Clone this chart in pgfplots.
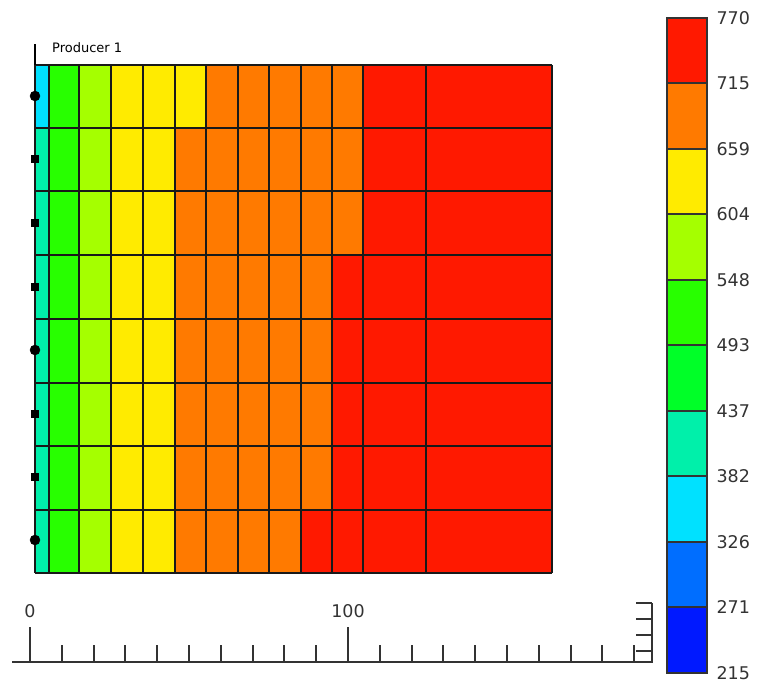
\documentclass[border=0pt]{standalone}
\usepackage{pgfplots}
\pgfplotsset{compat=1.18}
\usepackage{fontspec}
\setmainfont{DejaVu Sans}
\definecolor{cA}{RGB}{0,25,255}
\definecolor{cB}{RGB}{0,110,255}
\definecolor{cC}{RGB}{0,225,255}
\definecolor{cD}{RGB}{0,240,170}
\definecolor{cE}{RGB}{0,255,40}
\definecolor{cF}{RGB}{40,255,0}
\definecolor{cG}{RGB}{165,255,0}
\definecolor{cH}{RGB}{255,235,0}
\definecolor{cI}{RGB}{255,122,0}
\definecolor{cJ}{RGB}{255,25,0}
\begin{document}
\begin{tikzpicture}
% main picture, coordinates in pixels (y downwards)
\begin{axis}[
  at={(0pt,0pt)}, anchor=south west,
  scale only axis, width=758pt, height=680pt,
  xmin=0, xmax=758, ymin=0, ymax=680, y dir=reverse,
  hide axis, clip=false,
]
\addplot[draw=none, forget plot] coordinates {(0,0) (758,680)};
% colour regions of the grid
\addplot[fill=cC, draw=none] coordinates {(35,65)(49,65)(49,128)(35,128)} --cycle;
\addplot[fill=cD, draw=none] coordinates {(35,128)(49,128)(49,573)(35,573)} --cycle;
\addplot[fill=cF, draw=none] coordinates {(49,65)(79,65)(79,573)(49,573)} --cycle;
\addplot[fill=cG, draw=none] coordinates {(79,65)(111,65)(111,573)(79,573)} --cycle;
\addplot[fill=cH, draw=none] coordinates {(111,65)(206,65)(206,128)(174.5,128)(174.5,573)(111,573)} --cycle;
\addplot[fill=cI, draw=none] coordinates {(206,65)(362.5,65)(362.5,255)(331.5,255)(331.5,510)(301,510)(301,573)(174.5,573)(174.5,128)(206,128)} --cycle;
\addplot[fill=cJ, draw=none] coordinates {(362.5,65)(552,65)(552,573)(301,573)(301,510)(331.5,510)(331.5,255)(362.5,255)} --cycle;
% grid lines
\addplot[black!90, line width=2pt, unbounded coords=jump] coordinates {
 (35,65)(35,573) (nan,nan) (49,65)(49,573) (nan,nan) (79,65)(79,573) (nan,nan)
 (111,65)(111,573) (nan,nan) (143,65)(143,573) (nan,nan) (174.5,65)(174.5,573) (nan,nan)
 (206,65)(206,573) (nan,nan) (237.5,65)(237.5,573) (nan,nan) (269,65)(269,573) (nan,nan)
 (301,65)(301,573) (nan,nan) (331.5,65)(331.5,573) (nan,nan) (362.5,65)(362.5,573) (nan,nan)
 (426,65)(426,573) (nan,nan) (552,65)(552,573) (nan,nan)
 (35,65)(552,65) (nan,nan) (35,128)(552,128) (nan,nan) (35,191)(552,191) (nan,nan)
 (35,255)(552,255) (nan,nan) (35,319)(552,319) (nan,nan) (35,383)(552,383) (nan,nan)
 (35,446)(552,446) (nan,nan) (35,510)(552,510) (nan,nan) (35,573)(552,573)
};
% well
\addplot[black, line width=1.6pt] coordinates {(35,44)(35,65)};
\addplot[only marks, mark=*, mark size=5pt, black] coordinates {(35,96)(35,350)(35,540)};
\addplot[only marks, mark=square*, mark size=3.5pt, black] coordinates {(35,159)(35,223)(35,287)(35,414)(35,477)};
\node[anchor=west, font=\fontsize{13}{15}\selectfont, inner sep=0pt] at (axis cs:52,48) {Producer 1};
% scale bar
\addplot[black!80, line width=2pt, unbounded coords=jump] coordinates {
 (12,662)(652,662)(652,603) (nan,nan)
 (636,603)(652,603) (nan,nan) (636,619)(652,619) (nan,nan) (636,635)(652,635) (nan,nan) (636,651)(652,651) (nan,nan)
 (30,627)(30,662) (nan,nan) (348,627)(348,662) (nan,nan)
 (61.8,645)(61.8,662) (nan,nan) (93.6,645)(93.6,662) (nan,nan) (125.4,645)(125.4,662) (nan,nan)
 (157.2,645)(157.2,662) (nan,nan) (189,645)(189,662) (nan,nan) (220.8,645)(220.8,662) (nan,nan)
 (252.6,645)(252.6,662) (nan,nan) (284.4,645)(284.4,662) (nan,nan) (316.2,645)(316.2,662) (nan,nan)
 (379.8,645)(379.8,662) (nan,nan) (411.6,645)(411.6,662) (nan,nan) (443.4,645)(443.4,662) (nan,nan)
 (475.2,645)(475.2,662) (nan,nan) (507,645)(507,662) (nan,nan) (538.8,645)(538.8,662) (nan,nan)
 (570.6,645)(570.6,662) (nan,nan) (602.4,645)(602.4,662) (nan,nan) (634.2,645)(634.2,662)
};
\node[font=\fontsize{17.5}{20}\selectfont, inner sep=0pt, text=black!80] at (axis cs:30,611) {0};
\node[font=\fontsize{17.5}{20}\selectfont, inner sep=0pt, text=black!80] at (axis cs:348,611) {100};
\end{axis}
% colour bar
\begin{axis}[
  at={(667pt,7pt)}, anchor=south west,
  scale only axis, width=40pt, height=655pt,
  xmin=0, xmax=1, ymin=215, ymax=770,
  xtick=\empty,
  ytick={215,271,326,382,437,493,548,604,659,715,770},
  yticklabels={215,271,326,382,437,493,548,604,659,715,770},
  yticklabel pos=right, major tick length=0pt,
  yticklabel style={font=\fontsize{17.5}{20}\selectfont, text=black!80, xshift=6pt},
  /pgf/number format/assume math mode=true,
  axis line style={black!80, line width=1.6pt},
  axis on top,
]
\addplot[fill=cA, draw=black!80, line width=1.4pt] coordinates {(0,215)(1,215)(1,271)(0,271)} --cycle;
\addplot[fill=cB, draw=black!80, line width=1.4pt] coordinates {(0,271)(1,271)(1,326)(0,326)} --cycle;
\addplot[fill=cC, draw=black!80, line width=1.4pt] coordinates {(0,326)(1,326)(1,382)(0,382)} --cycle;
\addplot[fill=cD, draw=black!80, line width=1.4pt] coordinates {(0,382)(1,382)(1,437)(0,437)} --cycle;
\addplot[fill=cE, draw=black!80, line width=1.4pt] coordinates {(0,437)(1,437)(1,493)(0,493)} --cycle;
\addplot[fill=cF, draw=black!80, line width=1.4pt] coordinates {(0,493)(1,493)(1,548)(0,548)} --cycle;
\addplot[fill=cG, draw=black!80, line width=1.4pt] coordinates {(0,548)(1,548)(1,604)(0,604)} --cycle;
\addplot[fill=cH, draw=black!80, line width=1.4pt] coordinates {(0,604)(1,604)(1,659)(0,659)} --cycle;
\addplot[fill=cI, draw=black!80, line width=1.4pt] coordinates {(0,659)(1,659)(1,715)(0,715)} --cycle;
\addplot[fill=cJ, draw=black!80, line width=1.4pt] coordinates {(0,715)(1,715)(1,770)(0,770)} --cycle;
\end{axis}
\end{tikzpicture}
\end{document}
